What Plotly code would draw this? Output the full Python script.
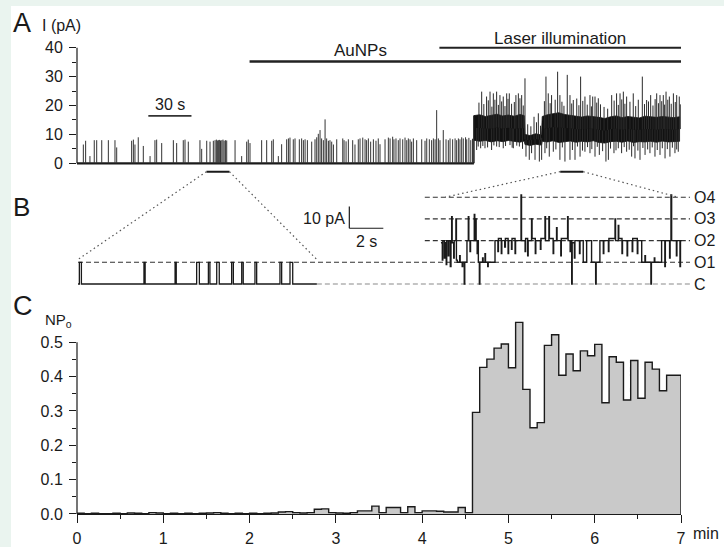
import numpy as np
import plotly.graph_objects as go

W, H = 724, 547
FONT = "Liberation Sans, Arial, Helvetica, sans-serif"
INK = "#1a1a1a"

# ---------------- Panel A: patch-clamp recording (time s, current pA) ----------------
A_DURATION_S = 420
AUNP_START_S = 120
LASER_START_S = 252
STEP_ONSET_S = 276
A_YTICKS = [0, 10, 20, 30, 40]
A_YMINOR = [5, 15, 25, 35]

# single openings before the step: (time s, amplitude pA)
A_OPENINGS = [
    (4.4, 6.5), (6.0, 7.8), (9.0, 2.5), (12.0, 8.0), (13.7, 8.0), (17.2, 8.0), (21.8, 8.0),
    (26.4, 8.0), (27.6, 5.5), (38.0, 7.8), (39.2, 8.2), (40.3, 6.5), (42.6, 9.0), (46.1, 6.0),
    (50.8, 2.5), (54.2, 8.0), (55.4, 8.2), (58.9, 7.0), (67.0, 8.0), (69.3, 7.0), (73.9, 8.0),
    (75.1, 8.2), (77.4, 7.5), (85.5, 8.0), (86.7, 5.0), (90.2, 7.8), (92.5, 7.5), (94.8, 7.8),
    (96.0, 8.0), (96.9, 8.2), (97.6, 7.9), (98.3, 8.0), (99.0, 8.1), (99.8, 7.9), (100.7, 8.0),
    (101.5, 8.2), (102.3, 7.8), (103.2, 8.0), (104.1, 7.9), (109.9, 8.0), (114.5, 2.5),
    (118.0, 7.5), (119.1, 8.2), (120.3, 7.0), (128.4, 8.0), (131.9, 8.0), (135.4, 7.8),
    (136.5, 8.3), (140.0, 2.5), (142.3, 6.6), (145.8, 8.3), (147.0, 8.6), (148.1, 8.9),
    (150.4, 8.3), (151.6, 8.6), (154.6, 8.3), (156.2, 8.6), (157.4, 8.0), (158.6, 8.3),
    (160.2, 8.0), (163.2, 7.5), (165.5, 8.3), (166.7, 9.0), (167.8, 10.2), (169.0, 11.5),
    (170.1, 8.6), (171.3, 8.0), (172.5, 15.2), (173.6, 8.6), (174.8, 7.8), (175.9, 8.0),
    (177.1, 7.5), (178.3, 6.5), (180.6, 8.3), (184.8, 8.6), (185.7, 8.0), (187.1, 7.6),
    (188.7, 8.3), (191.7, 8.0), (193.3, 6.5), (195.6, 8.3), (196.8, 8.6), (198.7, 8.9),
    (200.3, 8.3), (201.4, 8.0), (202.6, 8.6), (204.2, 7.5), (206.1, 8.3), (207.9, 7.8),
    (209.5, 8.6), (210.7, 6.6), (214.2, 8.3), (216.5, 8.9), (217.7, 8.6), (219.5, 9.2),
    (220.4, 8.3), (221.8, 8.6), (223.4, 8.0), (224.6, 8.6), (226.5, 8.3), (228.1, 8.9),
    (229.3, 8.0), (230.4, 8.6), (231.6, 8.3), (232.7, 7.5), (233.9, 8.6), (236.2, 8.0),
    (239.7, 8.3), (242.0, 7.8), (243.2, 8.6), (245.0, 8.3), (246.6, 8.0), (247.8, 8.6),
    (249.0, 8.3), (250.1, 18.4), (251.3, 8.6), (252.4, 8.0), (254.7, 11.5), (256.6, 8.3),
    (258.2, 8.0), (259.4, 8.6), (261.2, 8.3), (262.9, 8.6), (264.0, 8.0), (265.2, 8.6),
    (266.3, 8.3), (267.5, 9.0), (268.6, 8.6), (270.2, 9.0), (271.0, 8.3), (272.5, 8.8),
    (273.8, 8.0), (275.0, 8.5),
]

# multi-channel activity under illumination: envelope of the dense band
BAND_T = [276, 280, 284, 288, 292, 296, 300, 304, 308, 311, 311.5, 315, 319, 323, 323.5,
          327, 331, 335, 339, 343, 347, 351, 355, 359, 363, 367, 371, 375, 379, 383, 387,
          391, 395, 399, 403, 407, 411, 415, 419]
BAND_TOP = [16.5, 16.8, 16.2, 16.6, 17.0, 16.4, 16.7, 16.3, 16.9, 16.5, 10.0, 9.6, 10.2, 9.8,
            16.2, 16.8, 17.2, 17.5, 16.9, 16.6, 16.3, 16.0, 16.4, 16.2, 15.9, 15.5, 16.1, 16.4,
            15.8, 16.2, 16.0, 15.7, 16.3, 16.1, 15.9, 16.2, 16.0, 15.8, 16.1]
BAND_BOT = [8.0, 7.6, 7.9, 7.4, 7.8, 7.5, 7.9, 7.6, 7.3, 7.7, 6.5, 6.2, 6.6, 6.3, 7.6, 7.4,
            7.8, 7.2, 7.5, 7.7, 7.3, 7.6, 7.4, 7.8, 7.2, 7.0, 7.5, 7.6, 7.3, 7.7, 7.2, 7.5,
            7.4, 7.6, 7.3, 7.7, 7.4, 7.5, 7.6]
# excursions above the band: (time s, peak pA)
UP_EXCURSIONS = [
    (281.4, 24.8), (284.8, 23.1), (287.2, 24.8), (289.5, 24.2), (291.8, 24.8), (294.1, 23.6),
    (296.4, 23.1), (298.8, 24.2), (300.6, 24.2), (305.2, 23.6), (306.9, 24.2), (309.2, 23.6),
    (311.5, 29.4), (317.8, 16.1), (320.8, 17.3), (326.1, 30.0), (327.7, 24.2), (330.0, 23.6),
    (334.2, 31.7), (335.8, 23.6), (340.9, 30.6), (342.8, 23.6), (345.1, 21.9), (350.2, 30.0),
    (353.2, 23.1), (356.7, 23.6), (358.6, 23.1), (360.2, 23.1), (362.5, 22.5), (371.8, 23.6),
    (375.2, 24.2), (377.6, 24.2), (379.9, 24.8), (382.2, 23.1), (386.8, 24.2), (393.1, 30.0),
    (396.1, 21.9), (398.9, 23.6), (403.1, 24.2), (405.4, 23.6), (407.7, 23.6), (409.6, 24.8),
    (411.9, 23.1), (414.7, 24.2), (417.0, 23.6), (418.8, 23.1),
    (279.5, 21.0), (282.9, 20.5), (286.0, 21.8), (288.5, 19.6), (290.6, 22.0), (293.0, 20.2),
    (295.3, 21.4), (297.6, 19.8), (299.7, 22.3), (302.2, 20.6), (304.1, 21.2), (308.0, 22.5),
    (310.3, 20.0), (313.4, 13.5), (315.6, 12.8), (319.5, 14.2), (322.3, 13.0), (325.0, 21.5),
    (329.0, 20.8), (332.5, 22.0), (337.2, 21.3), (338.6, 19.9), (344.0, 20.7), (347.5, 22.4),
    (349.0, 20.1), (351.7, 21.6), (354.8, 20.3), (357.7, 19.7), (361.4, 21.0), (364.0, 20.4),
    (366.5, 19.5), (369.0, 18.9), (373.5, 21.7), (376.4, 20.2), (378.8, 22.1), (381.0, 20.6),
    (384.5, 21.3), (388.5, 19.8), (390.3, 22.0), (394.6, 20.5), (397.4, 21.4), (400.5, 20.0),
    (402.0, 22.2), (404.3, 20.8), (406.6, 21.5), (408.6, 20.3), (410.8, 22.0), (413.2, 20.6),
    (416.0, 21.2), (419.5, 20.4),
]
# excursions below the band: (time s, minimum pA)
DOWN_EXCURSIONS = [
    (277.9, 4.6), (280.7, 5.2), (283.7, 5.2), (288.3, 4.6), (291.8, 5.8), (296.4, 5.2),
    (301.1, 6.3), (303.4, 5.2), (307.6, 5.8), (312.2, 2.3), (314.5, 1.2), (316.1, 3.5),
    (318.5, 1.2), (321.5, 0.6), (323.1, 1.2), (325.4, 3.5), (328.4, 2.3), (331.2, 4.0),
    (335.8, 1.2), (339.3, 0.6), (342.8, 1.2), (346.3, 1.2), (349.8, 2.3), (353.2, 4.0),
    (356.7, 3.5), (360.2, 2.3), (363.2, 2.9), (367.8, 0.6), (369.5, 1.2), (373.4, 3.5),
    (376.4, 5.2), (378.7, 3.5), (382.2, 4.0), (385.7, 2.3), (388.0, 1.7), (391.5, 1.2),
    (395.0, 2.9), (398.4, 3.5), (401.9, 2.3), (405.4, 2.9), (408.9, 1.7), (412.3, 2.3),
    (415.8, 3.5), (418.1, 4.0),
    (279.0, 5.8), (282.2, 6.0), (285.5, 5.5), (289.9, 6.2), (293.6, 5.6), (298.0, 6.0),
    (302.6, 5.4), (305.8, 6.1), (309.8, 5.0), (326.6, 5.2), (333.0, 4.8), (337.5, 5.5),
    (344.5, 4.6), (348.0, 5.8), (351.5, 4.4), (355.0, 5.6), (358.0, 4.9), (361.8, 5.7),
    (365.5, 4.2), (371.0, 5.1), (374.8, 4.5), (380.5, 5.6), (384.0, 4.7), (387.0, 5.9),
    (390.0, 4.4), (393.5, 5.3), (396.8, 4.8), (400.0, 5.5), (403.5, 4.6), (407.0, 5.2),
    (410.5, 4.9), (414.0, 5.4), (417.0, 4.8),
]

ZOOM_WINDOWS_S = [(90, 106), (336, 352)]
SCALE_A_S = 30

# ---------------- Panel B: expanded segments (time s, current pA) ----------------
UNIT_PA = 10
LEVEL_NAMES = ["C", "O1", "O2", "O3", "O4"]
B1_OPENINGS = [(0.08, 0.2), (3.88, 3.95), (5.71, 5.78), (6.98, 7.14), (7.67, 7.76),
               (8.16, 8.31), (9.04, 9.14), (9.63, 9.72), (10.41, 10.51), (11.88, 11.98),
               (12.47, 12.63)]
B1_END_S = 14.05
B2_T = [21.35, 21.43, 21.46, 21.55, 21.58, 21.66, 21.69, 21.78, 21.81, 21.90, 21.94, 21.98,
        22.01, 22.10, 22.13, 22.23, 22.26, 22.31, 22.45, 22.48, 22.60, 22.63, 22.72, 22.75,
        22.88, 22.96, 22.99, 23.06, 23.09, 23.31, 23.34, 23.39, 23.42, 23.48, 23.51, 23.55,
        23.61, 23.64, 23.80, 23.83, 23.94, 23.97, 24.10, 24.13, 24.53, 24.70, 24.73, 24.90,
        24.93, 25.10, 25.14, 25.30, 25.33, 25.50, 25.53, 25.71, 25.74, 26.06, 26.09, 26.30,
        26.33, 26.45, 26.48, 26.68, 26.71, 26.90, 26.93, 27.20, 27.23, 27.47, 27.50, 27.70,
        27.73, 27.95, 27.98, 28.15, 28.18, 28.40, 28.43, 28.80, 28.83, 28.95, 28.98, 29.04,
        29.07, 29.20, 29.23, 29.50, 29.53, 29.72, 29.92, 30.21, 30.45, 30.48, 30.70, 30.90,
        30.93, 31.20, 31.23, 31.59, 31.62, 31.78, 31.81, 32.00, 32.03, 32.30, 32.33, 32.60,
        32.63, 32.90, 32.93, 33.16, 33.35, 33.38, 33.70, 33.73, 33.90, 33.93, 34.33, 34.52,
        34.55, 34.80, 34.83, 34.88, 34.92, 35.20, 35.23, 35.41, 35.44, 35.51]
B2_I = [19, 11, 20, 12, 19, 9, 20, 13, 20, 8, 20, 31,
        19, 12, 20, 30, 11, 10, 13, 10, 8, 10, 0, 10,
        20, 31, 20, 15, 20, 32, 20, 30, 20, 14, 20, 10,
        0, 10, 12, 10, 14, 10, 8, 10, 20, 15, 21, 14,
        20, 17, 21, 14, 20, 16, 21, 14, 20, 41, 20, 15,
        21, 13, 20, 30, 21, 14, 20, 16, 21, 31, 20, 31,
        21, 14, 20, 26, 20, 13, 21, 31, 20, 15, 20, 0,
        19, 12, 20, 14, 20, 10, 20, 10, 0, 10, 20, 14,
        20, 15, 21, 30, 20, 27, 21, 14, 20, 13, 20, 15,
        21, 14, 20, 10, 13, 10, 0, 10, 12, 10, 20, 8,
        20, 12, 20, 41, 20, 13, 20, 8, 20, 20]
SCALE_B_PA = 10
SCALE_B_S = 2

# ---------------- Panel C: open probability in 5-s bins (time min) ----------------
NPO_BIN_S = 5
NPO = [0.002, 0.001, 0.002, 0.001, 0.001, 0.002, 0.001, 0.003, 0.002, 0.001, 0.004, 0.003,
       0.001, 0.002, 0.001, 0.002, 0.001, 0.002, 0.003, 0.004, 0.002, 0.001, 0.002, 0.001,
       0.002, 0.001, 0.002, 0.003, 0.006, 0.007, 0.004, 0.003, 0.004, 0.014, 0.015, 0.004,
       0.003, 0.002, 0.004, 0.009, 0.009, 0.023, 0.004, 0.019, 0.019, 0.004, 0.021, 0.004,
       0.009, 0.009, 0.008, 0.006, 0.006, 0.019, 0.004,
       0.296, 0.427, 0.451, 0.483, 0.495, 0.426, 0.558, 0.363, 0.251, 0.266, 0.491, 0.522,
       0.404, 0.466, 0.417, 0.475, 0.461, 0.494, 0.324, 0.458, 0.442, 0.332, 0.447, 0.337,
       0.442, 0.422, 0.359, 0.404, 0.404]
C_XTICKS = [0, 1, 2, 3, 4, 5, 6, 7]
C_YTICKS = [0.0, 0.1, 0.2, 0.3, 0.4, 0.5]


def ydom(px_top, px_bot):
    return [1 - px_bot / H, 1 - px_top / H]


# pixel geometry of the three panels
AX_LEFT, AX_RIGHT = 77, 681
A_ZERO_PX, A_PX_PER_PA = 163.3, 2.89
A_YRANGE = [-5, 48]
B_LEFT, B_RIGHT = 78, 690
B_XRANGE = [0, 36]
B_ZERO_PX, B_PX_PER_PA = 284, 2.17
B_YRANGE = [-3, 43]
C_ZERO_PX, C_PX_PER_UNIT = 514, 343.4
C_YRANGE = [0, 0.58]


def a_to_paper(t, i):
    px = AX_LEFT + (t / A_DURATION_S) * (AX_RIGHT - AX_LEFT)
    py = A_ZERO_PX - i * A_PX_PER_PA
    return px / W, 1 - py / H


def b_to_paper(t, i):
    px = B_LEFT + (t - B_XRANGE[0]) / (B_XRANGE[1] - B_XRANGE[0]) * (B_RIGHT - B_LEFT)
    py = B_ZERO_PX - i * B_PX_PER_PA
    return px / W, 1 - py / H


fig = go.Figure()

# ---- A: baseline and brief openings
fig.add_trace(go.Scatter(x=[0, STEP_ONSET_S], y=[0, 0], mode="lines",
                         line=dict(color=INK, width=2.2), xaxis="x", yaxis="y",
                         hoverinfo="skip"))
sx, sy = [], []
for t, a in A_OPENINGS:
    sx += [t, t, None]
    sy += [0, a, None]
fig.add_trace(go.Scatter(x=sx, y=sy, mode="lines", line=dict(color="#333", width=1),
                         xaxis="x", yaxis="y", hoverinfo="skip"))

# ---- A: dense band during illumination
fig.add_trace(go.Scatter(x=BAND_T + BAND_T[::-1], y=BAND_TOP + BAND_BOT[::-1],
                         mode="lines", fill="toself", fillcolor="#111111",
                         line=dict(color="#111111", width=0.8), xaxis="x", yaxis="y",
                         hoverinfo="skip"))
mid = (np.array(BAND_TOP) + np.array(BAND_BOT)) / 2
ex, ey = [], []
for t, p in UP_EXCURSIONS + DOWN_EXCURSIONS:
    m = float(np.interp(t, BAND_T, mid))
    ex += [t, t, None]
    ey += [m, p, None]
fig.add_trace(go.Scatter(x=ex, y=ey, mode="lines", line=dict(color="#2a2a2a", width=1),
                         xaxis="x", yaxis="y", hoverinfo="skip"))
fig.add_trace(go.Scatter(x=[STEP_ONSET_S, STEP_ONSET_S], y=[0, BAND_TOP[0]], mode="lines",
                         line=dict(color=INK, width=1.5), xaxis="x", yaxis="y",
                         hoverinfo="skip"))

# ---- B: left expanded segment
bx, by = [0.0], [0.0]
for a, b in B1_OPENINGS:
    bx += [a, a, b, b]
    by += [0, UNIT_PA, UNIT_PA, 0]
bx.append(B1_END_S)
by.append(0)
fig.add_trace(go.Scatter(x=bx, y=by, mode="lines", line=dict(color=INK, width=1.3),
                         xaxis="x2", yaxis="y2", hoverinfo="skip"))
# ---- B: right expanded segment
fig.add_trace(go.Scatter(x=B2_T, y=B2_I, mode="lines", line_shape="hv",
                         line=dict(color=INK, width=1.4), xaxis="x2", yaxis="y2",
                         hoverinfo="skip"))

# ---- C: NPo step histogram
edges = np.arange(len(NPO) + 1) * NPO_BIN_S / 60.0
cx = list(edges) + [edges[-1]]
cy = list(NPO) + [NPO[-1], 0]
fig.add_trace(go.Scatter(x=cx, y=cy, mode="lines", line_shape="hv", fill="tozeroy",
                         fillcolor="#c9c9c9", line=dict(color=INK, width=1.4),
                         xaxis="x3", yaxis="y3", hoverinfo="skip"))

shapes = []
# white page inside the tinted frame
shapes.append(dict(type="rect", xref="paper", yref="paper", x0=11 / W, x1=1, y0=0,
                   y1=1 - 6 / H, fillcolor="white", line=dict(width=0), layer="below"))
# A: y axis line up to the last labelled tick
shapes.append(dict(type="line", xref="x domain", yref="y", x0=0, x1=0, y0=0, y1=40,
                   line=dict(color=INK, width=1.2)))
# A: treatment bars
shapes.append(dict(type="line", xref="x", yref="y", x0=AUNP_START_S, x1=A_DURATION_S,
                   y0=35.2, y1=35.2, line=dict(color="#222", width=2.6)))
shapes.append(dict(type="line", xref="x", yref="y", x0=LASER_START_S, x1=A_DURATION_S,
                   y0=40.0, y1=40.0, line=dict(color="#222", width=2)))
# A: time scale bar
shapes.append(dict(type="line", xref="x", yref="y", x0=49.6, x1=49.6 + SCALE_A_S,
                   y0=16.4, y1=16.4, line=dict(color="#333", width=1.6)))
# A: markers of the expanded windows
for t0, t1 in ZOOM_WINDOWS_S:
    shapes.append(dict(type="line", xref="x", yref="y", x0=t0, x1=t1, y0=-2.9, y1=-2.9,
                       line=dict(color=INK, width=2)))

# dotted connectors from the window markers to the expanded segments
seg_ends = [(0.0, 11.3), (B1_END_S, 11.3), (21.6, 40), (35.3, 40)]
marker_ends = [ZOOM_WINDOWS_S[0][0], ZOOM_WINDOWS_S[0][1],
               ZOOM_WINDOWS_S[1][0], ZOOM_WINDOWS_S[1][1]]
for tm, (tb, ib) in zip(marker_ends, seg_ends):
    x0, y0 = a_to_paper(tm, -2.9)
    x1, y1 = b_to_paper(tb, ib)
    shapes.append(dict(type="line", xref="paper", yref="paper", x0=x0, y0=y0, x1=x1, y1=y1,
                       line=dict(color="#555", width=1.2, dash="1.5px,3px")))

# B: conductance levels
level_spans = {0: (B1_END_S, B_XRANGE[1]), 1: (0, B_XRANGE[1]), 2: (20.4, B_XRANGE[1]),
               3: (20.4, B_XRANGE[1]), 4: (20.4, B_XRANGE[1])}
for n, (t0, t1) in level_spans.items():
    col = "#8a8a8a" if n == 0 else "#333"
    shapes.append(dict(type="line", xref="x2", yref="y2", x0=t0, x1=t1,
                       y0=n * UNIT_PA, y1=n * UNIT_PA, layer="below",
                       line=dict(color=col, width=1.1, dash="5px,3px")))
# B: scale bars
SB_T, SB_I = 15.96, 25.7
shapes.append(dict(type="line", xref="x2", yref="y2", x0=SB_T, x1=SB_T, y0=SB_I,
                   y1=SB_I + SCALE_B_PA, line=dict(color=INK, width=1.2)))
shapes.append(dict(type="line", xref="x2", yref="y2", x0=SB_T, x1=SB_T + SCALE_B_S,
                   y0=SB_I, y1=SB_I, line=dict(color=INK, width=1.2)))
# C: y axis line up to the last labelled tick
shapes.append(dict(type="line", xref="x3 domain", yref="y3", x0=0, x1=0, y0=0,
                   y1=C_YTICKS[-1], line=dict(color=INK, width=1.2)))

tick_font = dict(family=FONT, size=16, color=INK)
ann = []


def txt(text, x, y, size=16, xref="paper", yref="paper", xanchor="left", yanchor="middle",
        **kw):
    ann.append(dict(text=text, x=x, y=y, xref=xref, yref=yref, xanchor=xanchor,
                    yanchor=yanchor, showarrow=False,
                    font=dict(family=FONT, size=size, color=INK), **kw))


# panel letters and axis titles
txt("A", 11 / W, 1 - 23 / H, size=27)
txt("B", 11 / W, 1 - 207 / H, size=26)
txt("C", 11 / W, 1 - 306 / H, size=27)
txt("I (pA)", 40 / W, 1 - 25 / H, size=16)
txt("NP<sub>o</sub>", 43 / W, 1 - 320 / H, size=15)
# A annotations
txt("AuNPs", 196.8, 38.9, size=17, xref="x", yref="y", xanchor="center")
txt("Laser illumination", 336.2, 43.3, size=17, xref="x", yref="y", xanchor="center")
txt(f"{SCALE_A_S} s", 49.6 + SCALE_A_S / 2, 20.4, size=16, xref="x", yref="y",
    xanchor="center")
# B annotations
txt(f"{SCALE_B_PA} pA", SB_T, SB_I + SCALE_B_PA / 2 - 0.5, size=16, xref="x2", yref="y2",
    xanchor="right", xshift=-2)
txt(f"{SCALE_B_S} s", SB_T + SCALE_B_S / 2, 19.8, size=16, xref="x2", yref="y2",
    xanchor="center")
for n, name in enumerate(LEVEL_NAMES):
    txt(name, 692 / W, n * UNIT_PA, size=16, yref="y2", xanchor="left")
# C: unit after the last x tick
txt("min", 691 / W, 1 - 533 / H, size=16)

axis_common = dict(automargin=False, showgrid=False, zeroline=False)
fig.update_layout(
    template="none",
    width=W, height=H, margin=dict(l=0, r=0, t=0, b=0, pad=0), autosize=False,
    paper_bgcolor="#eaf4ef", plot_bgcolor="rgba(0,0,0,0)",
    showlegend=False, shapes=shapes, annotations=ann,
    font=dict(family=FONT, color=INK),
    xaxis=dict(domain=[AX_LEFT / W, AX_RIGHT / W], range=[0, A_DURATION_S], visible=False,
               **axis_common),
    yaxis=dict(domain=ydom(A_ZERO_PX - A_YRANGE[1] * A_PX_PER_PA,
                           A_ZERO_PX - A_YRANGE[0] * A_PX_PER_PA),
               range=A_YRANGE, anchor="x", tickmode="array", tickvals=A_YTICKS,
               ticks="outside", ticklen=7, tickwidth=1.1, tickcolor=INK,
               tickfont=tick_font, showline=False, ticklabelstandoff=3,
               minor=dict(tickmode="array", tickvals=A_YMINOR, ticks="outside", ticklen=4,
                          tickwidth=1, tickcolor=INK, showgrid=False),
               **axis_common),
    xaxis2=dict(domain=[B_LEFT / W, B_RIGHT / W], range=B_XRANGE, visible=False,
                anchor="y2", **axis_common),
    yaxis2=dict(domain=ydom(B_ZERO_PX - B_YRANGE[1] * B_PX_PER_PA,
                            B_ZERO_PX - B_YRANGE[0] * B_PX_PER_PA),
                range=B_YRANGE, visible=False, anchor="x2", **axis_common),
    xaxis3=dict(domain=[AX_LEFT / W, AX_RIGHT / W], range=[0, 7], anchor="y3",
                tickmode="array", tickvals=C_XTICKS, ticktext=[str(v) for v in C_XTICKS],
                ticks="outside", ticklen=8, tickwidth=1.1, tickcolor=INK,
                tickfont=tick_font, showline=True, linecolor=INK, linewidth=1.2,
                ticklabelstandoff=2,
                minor=dict(tickmode="array", tickvals=[v + 0.5 for v in C_XTICKS[:-1]],
                           ticks="outside", ticklen=4, tickwidth=1, tickcolor=INK,
                           showgrid=False),
                **axis_common),
    yaxis3=dict(domain=ydom(C_ZERO_PX - C_YRANGE[1] * C_PX_PER_UNIT, C_ZERO_PX),
                range=C_YRANGE, anchor="x3", tickmode="array", tickvals=C_YTICKS,
                ticktext=[f"{v:.1f}" for v in C_YTICKS], ticks="outside", ticklen=7,
                tickwidth=1.1, tickcolor=INK, tickfont=tick_font, showline=False,
                ticklabelstandoff=3,
                minor=dict(tickmode="array",
                           tickvals=[round(v + 0.05, 2) for v in C_YTICKS[:-1]],
                           ticks="outside", ticklen=4, tickwidth=1, tickcolor=INK,
                           showgrid=False),
                **axis_common),
)

fig.write_html("out.html")
